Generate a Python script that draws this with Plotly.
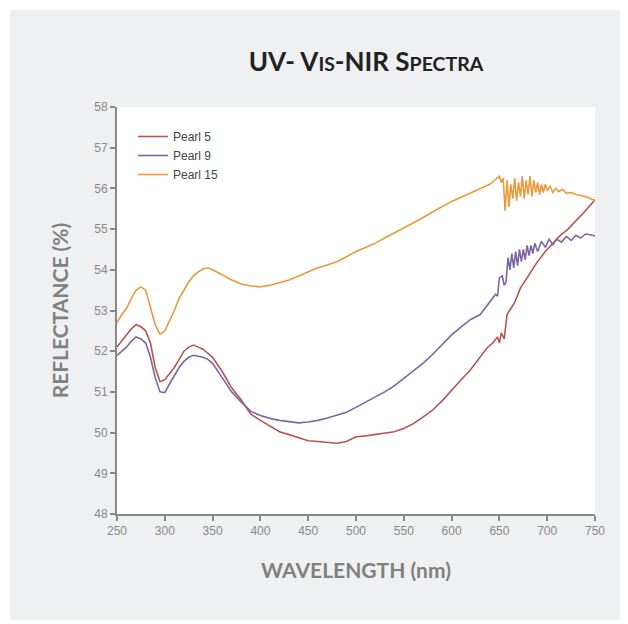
import plotly.graph_objects as go

# Pearl 5 (red)
wl_p5 = [250, 255, 260, 265, 270, 275, 280, 285, 290, 295, 300, 305, 310, 315, 320, 325, 330, 335, 340, 345,
         350, 360, 370, 380, 390, 400, 410, 420, 430, 440, 450, 460, 470, 480, 490, 500, 510, 520, 530, 540,
         550, 560, 570, 580, 590, 600, 610, 620, 630, 637, 643, 648, 650, 652, 655, 658, 662, 666, 672, 680,
         689, 698, 706, 714, 721, 731, 740, 750]
val_p5 = [52.1, 52.25, 52.4, 52.55, 52.65, 52.6, 52.5, 52.2, 51.6, 51.25, 51.3, 51.45, 51.6, 51.8, 52.0, 52.1, 52.15, 52.1, 52.05, 51.95,
          51.85, 51.5, 51.1, 50.8, 50.45, 50.3, 50.15, 50.02, 49.95, 49.88, 49.8, 49.78, 49.76, 49.74, 49.78, 49.9, 49.92, 49.95, 49.98, 50.02,
          50.1, 50.22, 50.38, 50.55, 50.78, 51.05, 51.3, 51.55, 51.85, 52.08, 52.2, 52.35, 52.2, 52.45, 52.3, 52.9, 53.05, 53.2, 53.55, 53.85,
          54.17, 54.45, 54.66, 54.85, 54.98, 55.22, 55.45, 55.72]

# Pearl 9 (purple)
wl_p9 = [250, 255, 260, 265, 270, 275, 280, 285, 290, 295, 300, 305, 310, 315, 320, 325, 330, 335, 340, 345,
         350, 360, 370, 380, 390, 400, 410, 420, 430, 440, 450, 460, 470, 480, 490, 500, 510, 520, 530, 540,
         550, 560, 570, 580, 590, 600, 610, 620, 630, 640, 643, 646, 648, 650, 653, 655, 657, 659, 661, 663,
         665, 667, 669, 671, 673, 675, 677, 679, 681, 683, 685, 687, 690, 694, 698, 702, 706, 710, 715, 720,
         725, 730, 735, 740, 745, 750]
val_p9 = [51.9, 52.0, 52.1, 52.25, 52.35, 52.3, 52.2, 51.85, 51.35, 51.0, 50.98, 51.2, 51.4, 51.6, 51.75, 51.85, 51.9, 51.88, 51.85, 51.8,
          51.7, 51.35, 51.0, 50.75, 50.52, 50.42, 50.35, 50.3, 50.27, 50.24, 50.26, 50.3, 50.36, 50.43, 50.5, 50.62, 50.74, 50.86, 51.0, 51.15,
          51.33, 51.5, 51.7, 51.92, 52.15, 52.4, 52.6, 52.78, 52.9, 53.2, 53.31, 53.4, 53.35, 53.8, 53.85, 53.62, 53.7, 54.3, 54.0, 54.4,
          54.05, 54.45, 54.1, 54.5, 54.2, 54.5, 54.25, 54.6, 54.35, 54.6, 54.4, 54.65, 54.45, 54.7, 54.55, 54.75, 54.62, 54.75, 54.68, 54.82,
          54.72, 54.85, 54.78, 54.88, 54.86, 54.83]

# Pearl 15 (orange)
wl_p15 = [250, 255, 260, 265, 270, 275, 280, 285, 290, 295, 300, 305, 310, 315, 320, 325, 330, 335, 340, 345,
          350, 355, 360, 370, 380, 390, 400, 410, 420, 430, 440, 450, 460, 470, 480, 490, 500, 510, 520, 530,
          540, 550, 560, 570, 580, 590, 600, 610, 620, 630, 640, 645, 650, 652, 654, 656, 658, 660, 662, 664,
          666, 668, 670, 672, 674, 676, 678, 680, 682, 684, 686, 688, 690, 692, 694, 696, 698, 700, 703, 706,
          709, 712, 716, 720, 725, 730, 735, 740, 745, 750]
val_p15 = [52.7, 52.9, 53.05, 53.3, 53.5, 53.58, 53.5, 53.1, 52.65, 52.42, 52.5, 52.75, 53.0, 53.3, 53.5, 53.7, 53.85, 53.95, 54.02, 54.05,
           54.0, 53.95, 53.88, 53.75, 53.65, 53.6, 53.58, 53.62, 53.68, 53.75, 53.85, 53.95, 54.05, 54.12, 54.2, 54.32, 54.45, 54.55, 54.65, 54.78,
           54.9, 55.02, 55.15, 55.28, 55.42, 55.55, 55.68, 55.78, 55.88, 55.98, 56.1, 56.2, 56.3, 56.15, 56.25, 55.45, 56.2, 55.55, 56.1, 55.75,
           56.25, 55.7, 56.15, 55.8, 56.3, 55.75, 56.2, 55.85, 56.3, 55.8, 56.2, 55.9, 56.15, 55.85, 56.1, 55.9, 56.1, 55.95, 56.05, 55.9,
           56.0, 55.92, 55.98, 55.88, 55.9, 55.85, 55.82, 55.8, 55.75, 55.7]

x_ticks = [250, 300, 350, 400, 450, 500, 550, 600, 650, 700, 750]
y_ticks = [48, 49, 50, 51, 52, 53, 54, 55, 56, 57, 58]

fig = go.Figure()
fig.add_trace(go.Scatter(x=wl_p5, y=val_p5, mode="lines", name="Pearl 5",
                         line=dict(color="#b9554f", width=1.6)))
fig.add_trace(go.Scatter(x=wl_p9, y=val_p9, mode="lines", name="Pearl 9",
                         line=dict(color="#7c66a8", width=1.6)))
fig.add_trace(go.Scatter(x=wl_p15, y=val_p15, mode="lines", name="Pearl 15",
                         line=dict(color="#e99a3c", width=1.6)))

OFF = 8  # page body margin
W, H = 620, 616
L, R, T, B = 109, 33, 99, 110
pw, ph = W - L - R, H - T - B

def px(x):
    # x given in reference-picture pixels
    return (x - OFF - L) / pw

def py(y):
    return (H - B - (y - OFF)) / ph

fig.update_layout(
    width=W, height=H,
    margin=dict(l=L, r=R, t=T, b=B),
    paper_bgcolor="#eff0f2",
    plot_bgcolor="#ffffff",
    font=dict(family="Liberation Sans, Arial, sans-serif", color="#808080", size=12),
    title=dict(
        text="UV- V<span style='font-size:19.5px'>IS</span>-NIR S<span style='font-size:19.5px'>PECTRA</span>",
        xref="container", x=(366 - OFF) / W, xanchor="center",
        yref="container", y=1 - (62 - OFF) / H, yanchor="middle",
        font=dict(family="Lato, Open Sans, sans-serif", size=26, color="#222222", weight="bold"),
    ),
    showlegend=True,
    legend=dict(
        x=px(133), y=py(122), xanchor="left", yanchor="top",
        bgcolor="rgba(0,0,0,0)", font=dict(size=12, color="#444444"),
        itemwidth=30, tracegroupgap=0,
    ),
    xaxis=dict(
        range=[250, 750], tickvals=x_ticks, ticktext=[str(v) for v in x_ticks],
        showgrid=False, zeroline=False, showline=True, linecolor="#888888", linewidth=2,
        ticks="outside", ticklen=5, tickwidth=2, tickcolor="#888888",
        tickfont=dict(size=12, color="#888888"),
        title=dict(text="WAVELENGTH (nm)", standoff=26,
                   font=dict(family="Lato, Open Sans, sans-serif", size=21, color="#808080", weight="bold")),
    ),
    yaxis=dict(
        range=[48, 58], tickvals=y_ticks, ticktext=[str(v) for v in y_ticks],
        showgrid=False, zeroline=False, showline=True, linecolor="#888888", linewidth=2,
        ticks="outside", ticklen=5, tickwidth=2, tickcolor="#888888",
        tickfont=dict(size=12, color="#888888"),
        title=dict(text="REFLECTANCE (%)", standoff=20,
                   font=dict(family="Lato, Open Sans, sans-serif", size=21, color="#808080", weight="bold")),
    ),
    shapes=[
        dict(type="rect", xref="paper", yref="paper", x0=px(0), x1=px(640), y0=py(0), y1=py(10),
             fillcolor="#ffffff", line=dict(width=0), layer="above"),
        dict(type="rect", xref="paper", yref="paper", x0=px(0), x1=px(10), y0=py(0), y1=py(640),
             fillcolor="#ffffff", line=dict(width=0), layer="above"),
        dict(type="rect", xref="paper", yref="paper", x0=px(0), x1=px(640), y0=py(620), y1=py(640),
             fillcolor="#ffffff", line=dict(width=0), layer="above"),
    ],
)

fig.write_html("out.html")
